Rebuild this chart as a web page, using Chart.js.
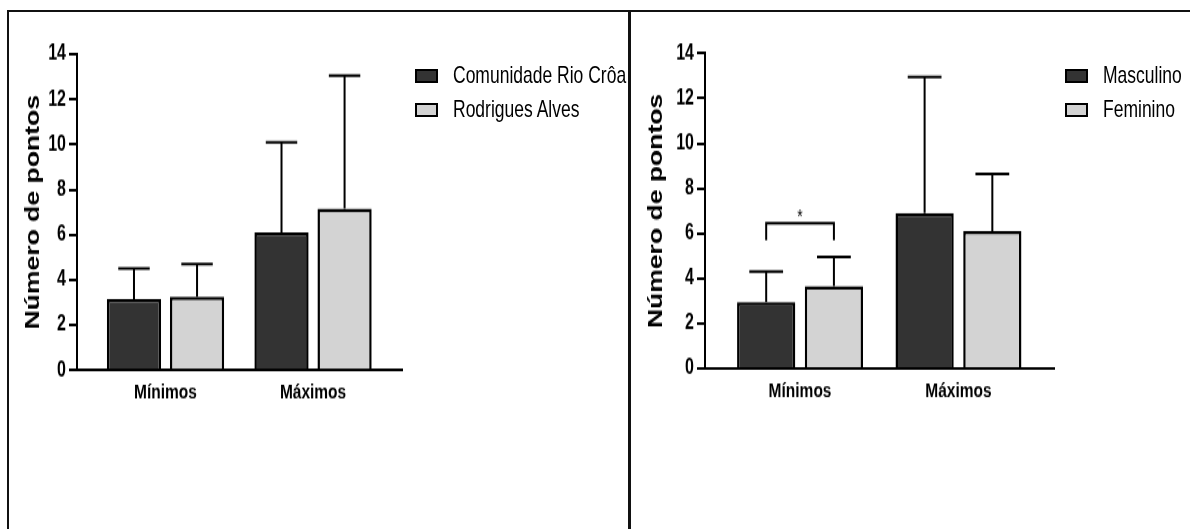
<!DOCTYPE html>
<html>
<head>
<meta charset="utf-8">
<script src="https://cdn.jsdelivr.net/npm/chart.js@4.4.1/dist/chart.umd.min.js"></script>
<style>
  html, body { margin: 0; padding: 0; background: #fff; }
  body { width: 1190px; height: 529px; position: relative; overflow: hidden; }
  .line { position: absolute; background: #111; }
  canvas { position: absolute; top: 12px; }
  .legend { position: absolute; font-family: 'Liberation Sans', Arial, sans-serif; font-size: 17.5px; color: #000; }
  .legend .row { display: flex; align-items: center; height: 34px; white-space: nowrap; }
  .legend .box { width: 23px; height: 14px; border: 2px solid #000; box-sizing: border-box; margin-right: 15px; }
  .legend .txt { display: inline-block; line-height: 1; transform: scaleY(1.36); transform-origin: left center; }
</style>
</head>
<body>
<div class="line" style="left:7px; top:10px; width:1183px; height:2px;"></div>
<div class="line" style="left:7px; top:10px; width:2px; height:519px;"></div>
<div class="line" style="left:628px; top:10px; width:3px; height:519px;"></div>
<canvas id="leftChart" width="618" height="380" style="left:9px; width:618px; height:517px;"></canvas>
<canvas id="rightChart" width="558" height="380" style="left:632px; width:558px; height:517px;"></canvas>
<div class="legend" id="leftLegend" style="left:415px; top:59px;"></div>
<div class="legend" id="rightLegend" style="left:1065px; top:59px;"></div>
<script>
// the source figure is stretched vertically, so each chart is drawn flat and stretched by css
const categories = ['Mínimos', 'Máximos'];

const comunidadeMeans = [3.15, 6.1];
const comunidadeSD = [1.35, 4.0];
const rodriguesMeans = [3.25, 7.15];
const rodriguesSD = [1.45, 5.9];

const masculinoMeans = [2.95, 6.9];
const masculinoSD = [1.35, 6.05];
const femininoMeans = [3.65, 6.1];
const femininoSD = [1.3, 2.55];

const yMax = 14;
const yStep = 2;

// bracket between the two Mínimos bars on the right chart
const rightSignificance = [{ index: 0, from: 0, to: 1, level: 6.45, leg: 5.7, label: '*' }];

const DARK = '#333333';
const LIGHT = '#d3d3d3';

Chart.defaults.font.family = "'Liberation Sans', Arial, sans-serif";
Chart.defaults.color = '#000';

const errorBars = {
    id: 'errorBars',
    afterDatasetsDraw(chart) {
        const ctx = chart.ctx;
        const y = chart.scales.y;
        ctx.save();
        ctx.strokeStyle = '#000';
        ctx.lineWidth = 2;
        chart.data.datasets.forEach((ds, di) => {
            const meta = chart.getDatasetMeta(di);
            meta.data.forEach((bar, i) => {
                const top = y.getPixelForValue(ds.data[i].y + ds.sd[i]);
                const half = bar.width * 0.29;
                ctx.beginPath();
                ctx.moveTo(bar.x, bar.y);
                ctx.lineTo(bar.x, top);
                ctx.moveTo(bar.x - half, top);
                ctx.lineTo(bar.x + half, top);
                ctx.stroke();
            });
        });
        ctx.restore();
    }
};

const brackets = {
    id: 'brackets',
    afterDatasetsDraw(chart, args, opts) {
        const list = opts.items || [];
        const ctx = chart.ctx;
        const y = chart.scales.y;
        ctx.save();
        ctx.strokeStyle = '#000';
        ctx.fillStyle = '#000';
        ctx.lineWidth = 2;
        list.forEach(s => {
            const a = chart.getDatasetMeta(s.from).data[s.index];
            const b = chart.getDatasetMeta(s.to).data[s.index];
            const yTop = y.getPixelForValue(s.level);
            const yLeg = y.getPixelForValue(s.leg);
            ctx.beginPath();
            ctx.moveTo(a.x, yLeg);
            ctx.lineTo(a.x, yTop);
            ctx.lineTo(b.x, yTop);
            ctx.lineTo(b.x, yLeg);
            ctx.stroke();
            ctx.font = "14px 'Liberation Sans', Arial, sans-serif";
            ctx.textAlign = 'center';
            ctx.textBaseline = 'bottom';
            ctx.fillText(s.label, (a.x + b.x) / 2, yTop + 3);
        });
        ctx.restore();
    }
};

function makeDataset(label, means, sd, color) {
    return {
        label: label,
        data: means.map((v, i) => ({ x: i, y: v })),
        sd: sd,
        backgroundColor: color,
        borderColor: '#000',
        borderWidth: 2.5,
        categoryPercentage: 0.855,
        barPercentage: 0.86
    };
}

function htmlLegend(chart, id) {
    const el = document.getElementById(id);
    chart.data.datasets.forEach(ds => {
        const row = document.createElement('div');
        row.className = 'row';
        const box = document.createElement('span');
        box.className = 'box';
        box.style.background = ds.backgroundColor;
        const txt = document.createElement('span');
        txt.className = 'txt';
        txt.textContent = ds.label;
        row.appendChild(box);
        row.appendChild(txt);
        el.appendChild(row);
    });
}

function makeChart(id, datasets, cfg) {
    const ctx = document.getElementById(id).getContext('2d');
    return new Chart(ctx, {
        type: 'bar',
        data: { datasets: datasets },
        options: {
            responsive: false,
            animation: false,
            devicePixelRatio: 1,
            layout: { padding: { left: 0, top: cfg.top, right: cfg.right, bottom: cfg.bottom } },
            scales: {
                x: {
                    type: 'linear',
                    offset: false,
                    min: -0.6,
                    max: 1.603,
                    afterBuildTicks: s => { s.ticks = categories.map((c, i) => ({ value: i })); },
                    afterFit: s => { s.height = 30; },
                    grid: { display: false, drawTicks: false, offset: false },
                    border: { display: true, color: '#000', width: 2 },
                    ticks: {
                        callback: v => categories[v],
                        padding: 7,
                        maxRotation: 0,
                        font: { size: 15.5, weight: 'bold' }
                    }
                },
                y: {
                    min: 0,
                    max: yMax,
                    afterFit: s => { s.width = cfg.yWidth; },
                    grid: { drawOnChartArea: false, drawTicks: true, tickLength: 8, color: '#000', lineWidth: 2 },
                    border: { display: true, color: '#000', width: 2 },
                    ticks: { stepSize: yStep, padding: 3, font: { size: 16, weight: 'bold' } },
                    title: {
                        display: true,
                        text: 'Número de pontos',
                        padding: { top: 13, bottom: 0 },
                        font: { size: 19.5, weight: 'bold' }
                    }
                }
            },
            plugins: {
                legend: { display: false },
                tooltip: { enabled: false },
                brackets: { items: cfg.brackets || [] }
            }
        },
        plugins: [errorBars, brackets]
    });
}

const leftChart = makeChart('leftChart', [
    makeDataset('Comunidade Rio Crôa', comunidadeMeans, comunidadeSD, DARK),
    makeDataset('Rodrigues Alves', rodriguesMeans, rodriguesSD, LIGHT)
], { yWidth: 68, top: 31, right: 225, bottom: 86.8 });

const rightChart = makeChart('rightChart', [
    makeDataset('Masculino', masculinoMeans, masculinoSD, DARK),
    makeDataset('Feminino', femininoMeans, femininoSD, LIGHT)
], { yWidth: 73, top: 30.4, right: 136, bottom: 88, brackets: rightSignificance });

htmlLegend(leftChart, 'leftLegend');
htmlLegend(rightChart, 'rightLegend');
</script>
</body>
</html>
